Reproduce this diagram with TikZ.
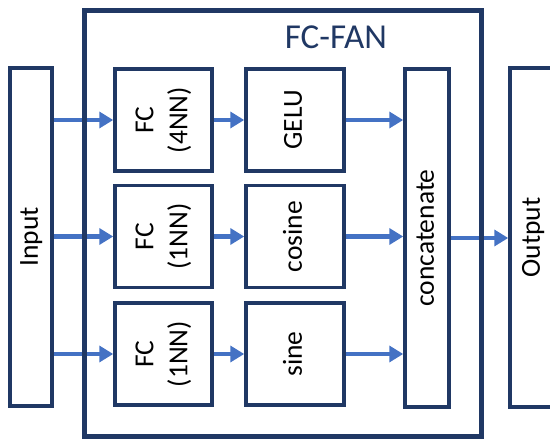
\documentclass[tikz,border=0pt]{standalone}
\usepackage{fontspec}
\setmainfont{Carlito}
\usetikzlibrary{arrows.meta}
\definecolor{navy}{RGB}{32,56,100}
\definecolor{arrblue}{RGB}{68,114,196}
\newcommand{\vtext}[1]{\rotatebox{90}{\begin{tabular}{@{}c@{}}#1\end{tabular}}}

\begin{document}
\begin{tikzpicture}[x=1pt, y=-1pt, every node/.style={font=\fontsize{27.5}{34}\selectfont}, >={Triangle[length=14pt, width=16pt]}, blk/.style={draw=navy, line width=3.5pt, inner sep=0pt}, arr/.style={->, draw=arrblue, fill=arrblue, line width=4.5pt}]
	\useasboundingbox (0,0) rectangle (550,441);
	\clip (0,0) rectangle (550,441);
	\node[blk, minimum width=42pt, minimum height=338pt] (in) at (31,237) {\vtext{Input}};
	\node[blk, minimum width=97pt, minimum height=102pt] (f1) at (163.5,120) {\vtext{FC\\(4NN)}};
	\node[blk, minimum width=97pt, minimum height=102pt] (f2) at (163.5,236.5) {\vtext{FC\\(1NN)}};
	\node[blk, minimum width=97pt, minimum height=102pt] (f3) at (163.5,354) {\vtext{FC\\(1NN)}};
	\node[blk, minimum width=98pt, minimum height=102pt] (a1) at (295,120) {\vtext{GELU}};
	\node[blk, minimum width=98pt, minimum height=102pt] (a2) at (295,236.5) {\vtext{cosine}};
	\node[blk, minimum width=98pt, minimum height=102pt] (a3) at (295,354) {\vtext{sine}};
	\node[blk, minimum width=44pt, minimum height=338pt] (cat) at (427,238) {\vtext{concatenate}};
	\node[blk, minimum width=46pt, minimum height=339pt] (out) at (533,237.5) {\vtext{Output}};
	\draw[arr] (in.east |- f1) -- (f1.west);
	\draw[arr] (in.east |- f2) -- (f2.west);
	\draw[arr] (in.east |- f3) -- (f3.west);
	\draw[arr] (f1.east) -- (a1.west); \draw[arr] (f2.east) -- (a2.west); \draw[arr] (f3.east) -- (a3.west);
	\draw[arr] (a1.east) -- (cat.west |- a1); \draw[arr] (a2.east) -- (cat.west |- a2); \draw[arr] (a3.east) -- (cat.west |- a3);
	\draw[arr] (cat.east) -- (out.west |- cat);
	\node[draw=navy, line width=5pt, inner sep=0pt, minimum width=397pt, minimum height=426.5pt] (fan) at (282.5,223.75) {};
	\node[text=navy, font=\fontsize{35}{42}\selectfont] (title) at (336,37.5) {FC-FAN};
\end{tikzpicture}
\end{document}
